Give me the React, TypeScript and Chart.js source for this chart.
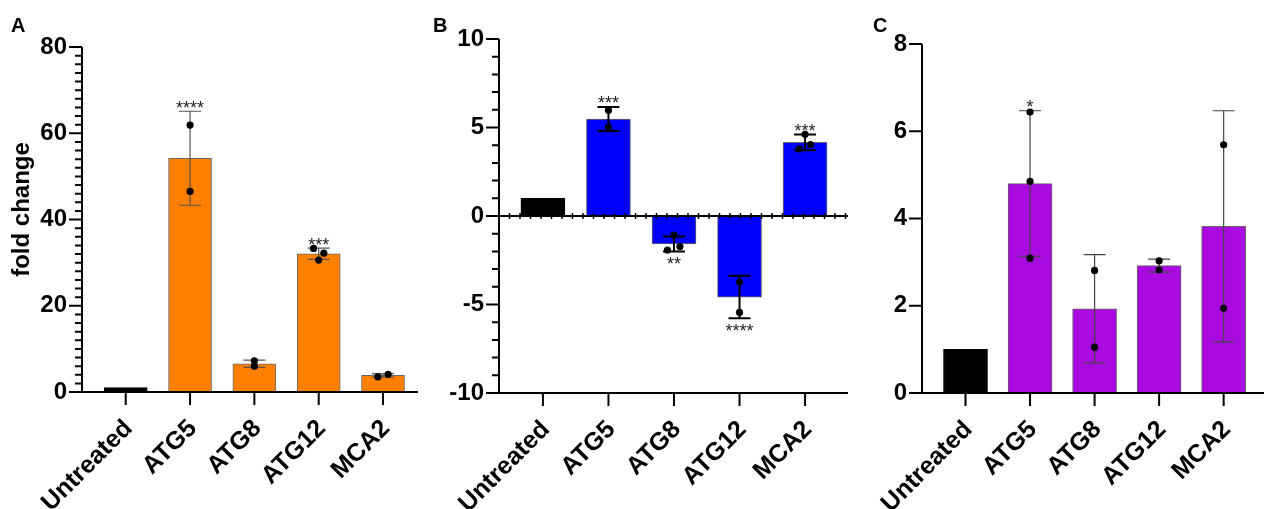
import React, { useEffect, useRef } from 'react';
import { Chart, registerables } from 'chart.js';

Chart.register(...registerables);

const FONT = "'Liberation Sans', Arial, sans-serif";

const categories = ['Untreated', 'ATG5', 'ATG8', 'ATG12', 'MCA2'];

// Panel A (fold change)
const meansA = [1.0, 54.2, 6.55, 32.05, 3.85];
const sdA = [0, 10.9, 0.85, 1.3, 0.42];
const pointsA = [[], [61.9, 46.5], [7.25, 6.0], [33.3, 32.2, 30.6], [3.5, 4.1]];
const jitterA = [[], [0, 0], [0, 0], [-0.08, 0.08, 0], [-0.08, 0.08]];
const starsA = ['', '****', '', '***', ''];
const yTicksA = [0, 20, 40, 60, 80];

// Panel B
const meansB = [1.0, 5.48, -1.58, -4.58, 4.16];
const sdB = [0, 0.68, 0.42, 1.2, 0.44];
const pointsB = [[], [5.97, 5.01], [-1.08, -1.92, -1.73], [-3.73, -5.45], [4.62, 3.79, 4.03]];
const jitterB = [[], [0, 0], [0, -0.1, 0.09], [0, 0], [0, -0.09, 0.085]];
const starsB = ['', '***', '**', '****', '***'];
const yTicksB = [-10, -5, 0, 5, 10];

// Panel C
const meansC = [1.0, 4.8, 1.93, 2.92, 3.82];
const sdC = [0, 1.67, 1.24, 0.15, 2.65];
const pointsC = [[], [6.44, 4.85, 3.09], [2.81, 1.05], [3.03, 2.82], [5.69, 1.94]];
const jitterC = [[], [0, 0, 0], [0, 0], [0, 0], [0, 0]];
const starsC = ['', '*', '', '', ''];
const yTicksC = [0, 2, 4, 6, 8];

type Panel = {
  letter: string;
  letterX: number;
  left: number;
  width: number;
  means: number[];
  sd: number[];
  points: number[][];
  jitter: number[][];
  stars: string[];
  yTicks: number[];
  yMinorStep: number;
  color: string;
  xMin: number;
  xMax: number;
  padTop: number;
  padRight: number;
  axisWidth: number;
  xAxisHeight: number;
  barThickness: number;
  errColor: string;
  errWidth: number;
  zeroLine: boolean;
  title?: string;
};

const panels: Panel[] = [
  {
    letter: 'A', letterX: 11, left: 0, width: 422,
    means: meansA, sd: sdA, points: pointsA, jitter: jitterA, stars: starsA,
    yTicks: yTicksA, yMinorStep: 2, color: '#FF8000',
    xMin: -0.68, xMax: 4.544, padTop: 47, padRight: 2, axisWidth: 82, xAxisHeight: 117,
    barThickness: 43, errColor: '#555555', errWidth: 1.2, zeroLine: false, title: 'fold change',
  },
  {
    letter: 'B', letterX: 11, left: 422, width: 430,
    means: meansB, sd: sdB, points: pointsB, jitter: jitterB, stars: starsB,
    yTicks: yTicksB, yMinorStep: 1, color: '#0000FF',
    xMin: -0.67, xMax: 4.655, padTop: 39, padRight: 1, axisWidth: 77, xAxisHeight: 116,
    barThickness: 44, errColor: '#000000', errWidth: 2, zeroLine: true,
  },
  {
    letter: 'C', letterX: 21, left: 852, width: 416,
    means: meansC, sd: sdC, points: pointsC, jitter: jitterC, stars: starsC,
    yTicks: yTicksC, yMinorStep: 0, color: '#A90AE0',
    xMin: -0.674, xMax: 4.625, padTop: 44, padRight: 0, axisWidth: 70, xAxisHeight: 116,
    barThickness: 44, errColor: '#444444', errWidth: 1.2, zeroLine: false,
  },
];

function makePlugin(p: Panel) {
  return {
    id: 'deco' + p.letter,
    afterDatasetDraw(chart: any, args: any) {
      if (args.index !== 0) return;
      const ctx = chart.ctx;
      const xs = chart.scales.x;
      const ys = chart.scales.y;
      ctx.save();
      ctx.strokeStyle = p.errColor;
      ctx.lineWidth = p.errWidth;
      p.means.forEach((m, i) => {
        const s = p.sd[i];
        if (!s) return;
        const px = xs.getPixelForValue(i);
        const t = ys.getPixelForValue(m + s);
        const b = ys.getPixelForValue(m - s);
        ctx.beginPath();
        ctx.moveTo(px, t);
        ctx.lineTo(px, b);
        ctx.moveTo(px - 11, t);
        ctx.lineTo(px + 11, t);
        ctx.moveTo(px - 11, b);
        ctx.lineTo(px + 11, b);
        ctx.stroke();
      });
      ctx.restore();
    },
    afterDraw(chart: any) {
      const ctx = chart.ctx;
      const xs = chart.scales.x;
      const ys = chart.scales.y;
      const area = chart.chartArea;
      ctx.save();
      ctx.strokeStyle = '#000';
      ctx.fillStyle = '#000';
      ctx.lineWidth = 2;
      const yBottom = ys.getPixelForValue(ys.min);
      const yTop = ys.getPixelForValue(ys.max);
      // y axis line
      ctx.beginPath();
      ctx.moveTo(area.left, yTop);
      ctx.lineTo(area.left, yBottom + 1);
      ctx.stroke();
      // x axis line
      ctx.beginPath();
      ctx.moveTo(area.left - 1, yBottom);
      ctx.lineTo(area.right, yBottom);
      ctx.stroke();
      // major y ticks
      ctx.beginPath();
      p.yTicks.forEach((v) => {
        const py = ys.getPixelForValue(v);
        ctx.moveTo(area.left - 13, py);
        ctx.lineTo(area.left, py);
      });
      // minor y ticks
      if (p.yMinorStep > 0) {
        for (let v = ys.min; v <= ys.max + 1e-9; v += p.yMinorStep) {
          const py = ys.getPixelForValue(v);
          ctx.moveTo(area.left - 7, py);
          ctx.lineTo(area.left, py);
        }
      }
      // x ticks
      categories.forEach((_, i) => {
        const px = xs.getPixelForValue(i);
        ctx.moveTo(px, yBottom);
        ctx.lineTo(px, yBottom + 13);
      });
      ctx.stroke();
      // zero line
      if (p.zeroLine) {
        const y0 = ys.getPixelForValue(0);
        ctx.beginPath();
        ctx.moveTo(area.left, y0);
        ctx.lineTo(area.right, y0);
        ctx.stroke();
        ctx.lineWidth = 1.5;
        ctx.beginPath();
        for (let px = area.left + 10.5; px <= area.right; px += 10.5) {
          ctx.moveTo(px, y0 - 3);
          ctx.lineTo(px, y0 + 3);
        }
        ctx.stroke();
      }
      // significance stars
      ctx.fillStyle = '#222';
      ctx.font = `18px ${FONT}`;
      ctx.textAlign = 'center';
      ctx.textBaseline = 'alphabetic';
      p.stars.forEach((st, i) => {
        if (!st) return;
        const m = p.means[i];
        const s = p.sd[i];
        const px = xs.getPixelForValue(i);
        if (m >= 0) {
          const cy = ys.getPixelForValue(m + s) - 8;
          ctx.fillText(st, px, cy + 0.58 * 18);
        } else {
          const cy = ys.getPixelForValue(m - s) + 8;
          ctx.fillText(st, px, cy + 0.58 * 18);
        }
      });
      // axis title
      if (p.title) {
        ctx.save();
        ctx.fillStyle = '#000';
        ctx.font = `bold 24px ${FONT}`;
        ctx.translate(22.5, (area.top + area.bottom) / 2 - 10);
        ctx.rotate(-Math.PI / 2);
        ctx.textAlign = 'center';
        ctx.textBaseline = 'middle';
        ctx.fillText(p.title, 0, 0);
        ctx.restore();
      }
      // panel letter
      ctx.fillStyle = '#000';
      ctx.font = `bold 20px ${FONT}`;
      ctx.textAlign = 'left';
      ctx.textBaseline = 'alphabetic';
      ctx.fillText(p.letter, p.letterX, 32);
      ctx.restore();
    },
  };
}

function PanelChart({ p }: { p: Panel }) {
  const ref = useRef<HTMLCanvasElement | null>(null);
  useEffect(() => {
    if (!ref.current) return;
    const barData = p.means.map((v, i) => ({ x: i, y: v }));
    const pointData: { x: number; y: number }[] = [];
    p.points.forEach((arr, i) => {
      arr.forEach((v, j) => pointData.push({ x: i + (p.jitter[i][j] || 0), y: v }));
    });
    const chart = new Chart(ref.current, {
      type: 'bar',
      data: {
        datasets: [
          {
            type: 'bar',
            data: barData as any,
            backgroundColor: p.means.map((_, i) => (i === 0 ? '#000000' : p.color)),
            borderColor: p.means.map((_, i) => (i === 0 ? '#000000' : '#666666')),
            borderWidth: 1,
            barThickness: p.barThickness,
            order: 2,
          },
          {
            type: 'scatter',
            data: pointData as any,
            backgroundColor: '#000',
            borderWidth: 0,
            pointRadius: 3.6,
            order: 1,
          } as any,
        ],
      },
      options: {
        animation: false,
        responsive: false,
        events: [],
        layout: { padding: { top: p.padTop, right: p.padRight, left: 0, bottom: 0 } },
        plugins: { legend: { display: false }, tooltip: { enabled: false } },
        scales: {
          x: {
            type: 'linear',
            offset: false,
            min: p.xMin,
            max: p.xMax,
            grid: { display: false, drawTicks: false, offset: false },
            border: { display: false },
            afterBuildTicks: (s: any) => {
              s.ticks = categories.map((_, i) => ({ value: i }));
            },
            afterFit: (s: any) => {
              s.height = p.xAxisHeight;
              s.paddingLeft = 0;
              s.paddingRight = 0;
            },
            ticks: {
              autoSkip: false,
              maxRotation: 45,
              minRotation: 45,
              padding: 22,
              labelOffset: 3,
              color: '#000',
              font: { family: FONT, size: 25, weight: 'bold' },
              callback: (v: any) => categories[Math.round(Number(v))] ?? '',
            },
          },
          y: {
            type: 'linear',
            min: p.yTicks[0],
            max: p.yTicks[p.yTicks.length - 1],
            grid: { display: false, drawTicks: false },
            border: { display: false },
            afterBuildTicks: (s: any) => {
              s.ticks = p.yTicks.map((v) => ({ value: v }));
            },
            afterFit: (s: any) => {
              s.width = p.axisWidth;
              s.paddingTop = 0;
              s.paddingBottom = 0;
            },
            ticks: {
              padding: 15,
              color: '#000',
              font: { family: FONT, size: 24, weight: 'bold' },
            },
          },
        },
      } as any,
      plugins: [makePlugin(p)],
    });
    return () => chart.destroy();
  }, [p]);
  return (
    <canvas
      ref={ref}
      width={p.width}
      height={509}
      style={{ position: 'absolute', left: p.left, top: 0, width: p.width, height: 509, display: 'block' }}
    />
  );
}

export default function App() {
  return (
    <div style={{ position: 'fixed', left: 0, top: 0, width: 1268, height: 509, background: '#fff', overflow: 'hidden' }}>
      {panels.map((p) => (
        <PanelChart key={p.letter} p={p} />
      ))}
    </div>
  );
}
